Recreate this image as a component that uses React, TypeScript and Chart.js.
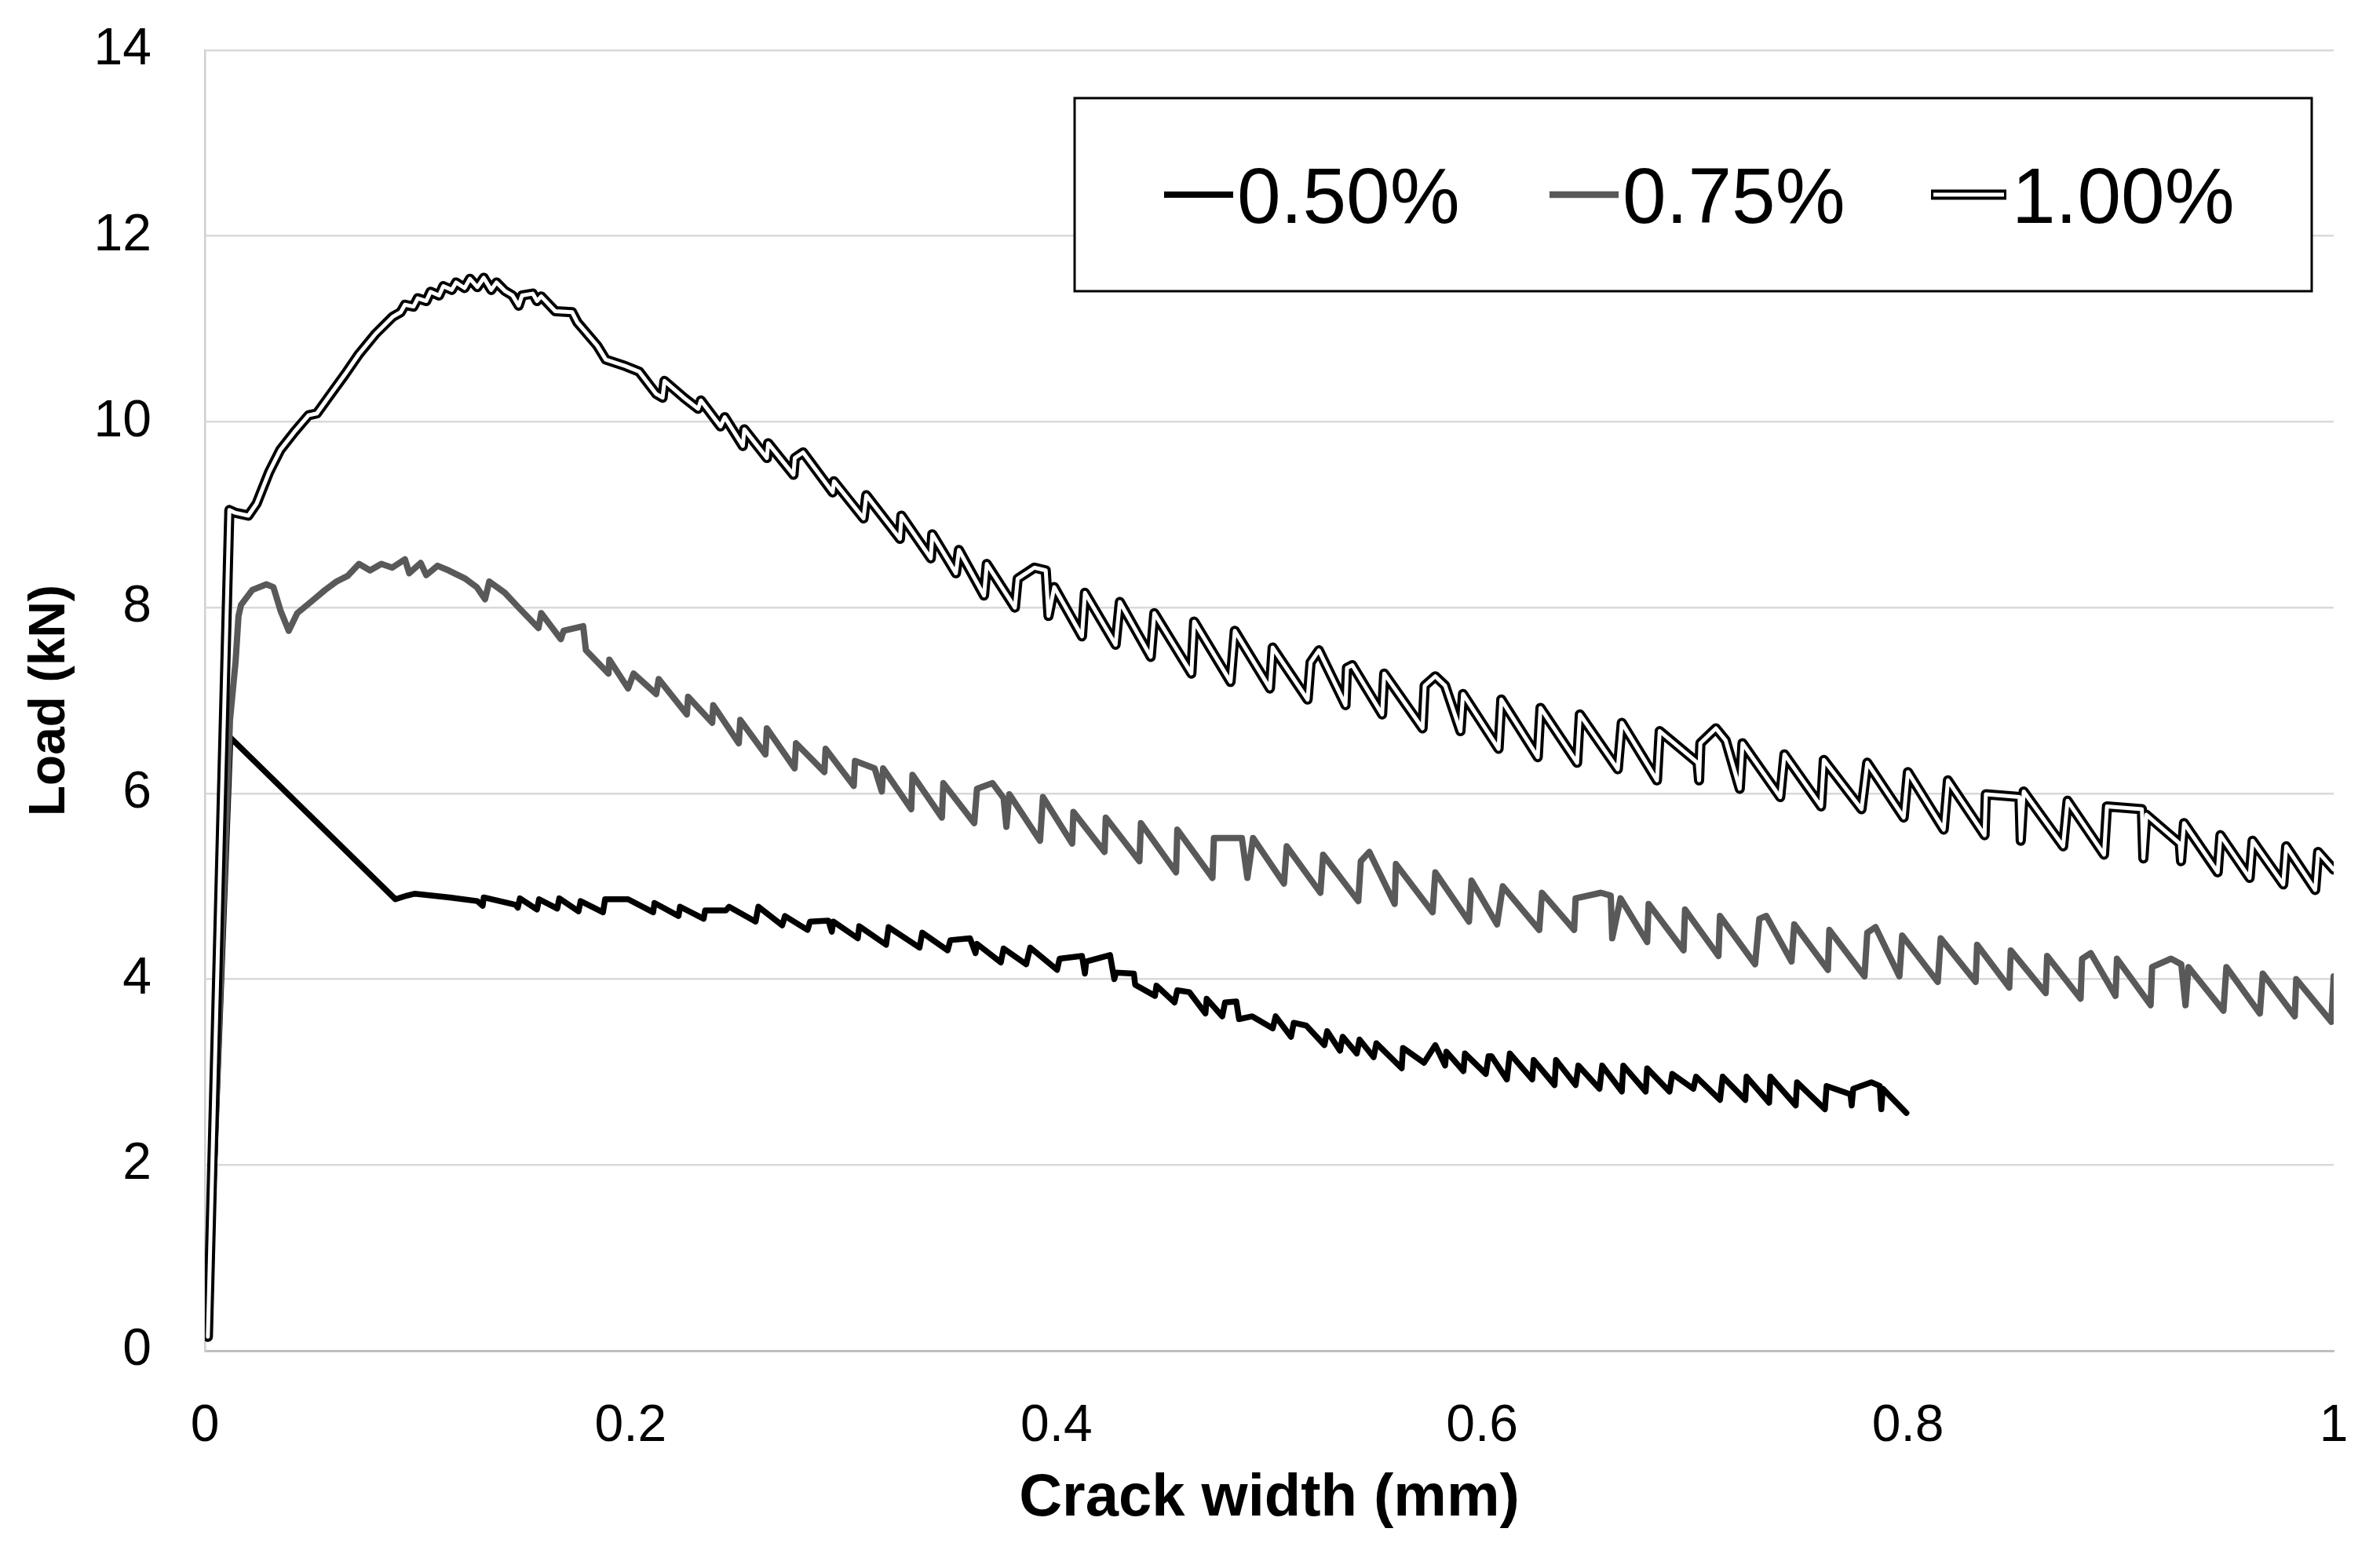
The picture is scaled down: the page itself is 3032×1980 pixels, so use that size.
import { useEffect, useRef } from "react";
import { Chart, registerables } from "chart.js";

Chart.register(...registerables);

// ---------- data ----------
const seriesLabels = ["0.50%", "0.75%", "1.00%"];
const xTickValues = [0, 0.2, 0.4, 0.6, 0.8, 1];
const yTickValues = [0, 2, 4, 6, 8, 10, 12, 14];

// [crack width (mm), load (kN)]
const s050: [number, number][] = [
  [0.0014, 0.15], [0.012, 6.6], [0.0895, 4.86], [0.095, 4.9], [0.0987, 4.92], [0.115, 4.88],
  [0.128, 4.84], [0.1305, 4.79], [0.131, 4.88], [0.146, 4.8], [0.147, 4.77], [0.148, 4.87],
  [0.156, 4.75], [0.157, 4.86], [0.1655, 4.76], [0.1665, 4.87], [0.1755, 4.73], [0.1765, 4.84],
  [0.187, 4.72], [0.188, 4.86], [0.1988, 4.86], [0.2106, 4.72], [0.2112, 4.82], [0.2225, 4.68],
  [0.2232, 4.78], [0.2343, 4.65], [0.235, 4.74], [0.2448, 4.74], [0.2462, 4.78], [0.2587, 4.62],
  [0.26, 4.78], [0.2712, 4.58], [0.2725, 4.68], [0.2831, 4.53], [0.2843, 4.62], [0.2929, 4.63],
  [0.2945, 4.51], [0.2952, 4.62], [0.3067, 4.44], [0.3074, 4.57], [0.32, 4.37], [0.3212, 4.56],
  [0.3357, 4.34], [0.337, 4.5], [0.3489, 4.31], [0.3502, 4.42], [0.3594, 4.44], [0.362, 4.28],
  [0.3627, 4.38], [0.3739, 4.18], [0.3752, 4.33], [0.3858, 4.16], [0.3877, 4.34], [0.4003, 4.1],
  [0.4015, 4.22], [0.412, 4.25], [0.4134, 4.06], [0.414, 4.19], [0.4252, 4.26], [0.4272, 4.0],
  [0.428, 4.07], [0.4364, 4.06], [0.437, 3.94], [0.4463, 3.82], [0.447, 3.93], [0.4555, 3.75],
  [0.4568, 3.88], [0.4625, 3.86], [0.47, 3.63], [0.4706, 3.79], [0.4779, 3.6], [0.4792, 3.75],
  [0.4845, 3.76], [0.4858, 3.57], [0.492, 3.6], [0.5016, 3.47], [0.503, 3.6], [0.5102, 3.38],
  [0.5115, 3.53], [0.5174, 3.5], [0.5259, 3.29], [0.5272, 3.44], [0.5332, 3.23], [0.5345, 3.38],
  [0.5411, 3.2], [0.5424, 3.35], [0.549, 3.16], [0.5503, 3.31], [0.5622, 3.04], [0.5628, 3.26],
  [0.5727, 3.1], [0.578, 3.29], [0.5826, 3.07], [0.5832, 3.22], [0.5912, 3.01], [0.5919, 3.2],
  [0.6017, 2.98], [0.603, 3.17], [0.6044, 3.17], [0.6116, 2.92], [0.613, 3.2], [0.6235, 2.92],
  [0.6242, 3.13], [0.634, 2.86], [0.6347, 3.13], [0.6439, 2.86], [0.6452, 3.07], [0.6551, 2.82],
  [0.6564, 3.07], [0.6656, 2.79], [0.6663, 3.07], [0.6768, 2.79], [0.6775, 3.04], [0.688, 2.79],
  [0.6893, 2.98], [0.6992, 2.82], [0.7005, 2.95], [0.7117, 2.7], [0.713, 2.95], [0.7236, 2.7],
  [0.7242, 2.95], [0.7348, 2.67], [0.7354, 2.95], [0.7473, 2.64], [0.7479, 2.89], [0.761, 2.6],
  [0.7618, 2.85], [0.773, 2.76], [0.7736, 2.64], [0.7743, 2.82], [0.7828, 2.89], [0.7868, 2.85],
  [0.7875, 2.6], [0.7882, 2.82], [0.7993, 2.56],
];

const s075: [number, number][] = [
  [0.0014, 0.15], [0.0118, 6.79], [0.0144, 7.41], [0.0158, 7.91], [0.017, 8.03], [0.0223, 8.19],
  [0.0289, 8.25], [0.0322, 8.22], [0.0355, 7.97], [0.0394, 7.75], [0.0434, 7.94], [0.0513, 8.09],
  [0.0565, 8.19], [0.0618, 8.28], [0.067, 8.34], [0.0724, 8.47], [0.0776, 8.4], [0.0829, 8.47],
  [0.088, 8.43], [0.094, 8.52], [0.096, 8.37], [0.1014, 8.48], [0.104, 8.35], [0.1093, 8.45],
  [0.1145, 8.4], [0.1224, 8.31], [0.1277, 8.22], [0.1316, 8.09], [0.1336, 8.28], [0.1409, 8.16],
  [0.1474, 8.0], [0.1567, 7.78], [0.158, 7.94], [0.1672, 7.66], [0.1685, 7.75], [0.1777, 7.8],
  [0.179, 7.54], [0.1896, 7.29], [0.19, 7.44], [0.1988, 7.13], [0.2014, 7.29], [0.212, 7.07],
  [0.2132, 7.23], [0.2264, 6.85], [0.227, 7.04], [0.2383, 6.76], [0.2388, 6.95], [0.2508, 6.54],
  [0.2515, 6.79], [0.2633, 6.42], [0.264, 6.7], [0.277, 6.27], [0.2777, 6.54], [0.291, 6.23],
  [0.2916, 6.48], [0.3048, 6.08], [0.3054, 6.35], [0.3146, 6.27], [0.318, 6.02], [0.3186, 6.27],
  [0.3318, 5.83], [0.3324, 6.2], [0.3462, 5.74], [0.3469, 6.11], [0.3614, 5.68], [0.3627, 6.05],
  [0.37, 6.11], [0.3752, 5.95], [0.3765, 5.64], [0.3779, 5.99], [0.3923, 5.49], [0.3937, 5.96],
  [0.4074, 5.46], [0.408, 5.8], [0.4226, 5.37], [0.4232, 5.74], [0.439, 5.27], [0.4397, 5.68],
  [0.4562, 5.15], [0.4568, 5.61], [0.4733, 5.09], [0.474, 5.52], [0.4871, 5.52], [0.4897, 5.09],
  [0.4924, 5.52], [0.5069, 5.03], [0.5082, 5.43], [0.524, 4.93], [0.5253, 5.34], [0.5418, 4.84],
  [0.543, 5.27], [0.547, 5.37], [0.5589, 4.81], [0.5595, 5.24], [0.5767, 4.72], [0.578, 5.15],
  [0.5938, 4.62], [0.595, 5.06], [0.607, 4.59], [0.6097, 5.0], [0.6268, 4.53], [0.6281, 4.93],
  [0.6432, 4.53], [0.6439, 4.87], [0.6558, 4.93], [0.6604, 4.9], [0.6611, 4.44], [0.665, 4.87],
  [0.6775, 4.4], [0.6782, 4.81], [0.6946, 4.31], [0.6953, 4.75], [0.711, 4.25], [0.7117, 4.68],
  [0.7282, 4.16], [0.7302, 4.65], [0.7335, 4.68], [0.7453, 4.19], [0.7466, 4.59], [0.7624, 4.1],
  [0.7631, 4.53], [0.7796, 4.03], [0.7809, 4.5], [0.7848, 4.56], [0.796, 4.03], [0.7973, 4.47],
  [0.814, 3.97], [0.8154, 4.44], [0.8318, 3.97], [0.8325, 4.37], [0.8476, 3.91], [0.8483, 4.31],
  [0.8647, 3.85], [0.8654, 4.25], [0.8811, 3.79], [0.8818, 4.22], [0.8859, 4.28], [0.8975, 3.82],
  [0.8982, 4.22], [0.914, 3.72], [0.9147, 4.13], [0.9236, 4.22], [0.9284, 4.16], [0.9304, 3.72],
  [0.9318, 4.13], [0.9482, 3.66], [0.9496, 4.13], [0.9653, 3.63], [0.9667, 4.06], [0.9817, 3.6],
  [0.9824, 4.0], [0.9989, 3.54], [1.0, 4.03],
];

const s100: [number, number][] = [
  [0.0014, 0.15], [0.0115, 9.05], [0.0144, 9.02], [0.0204, 8.99], [0.0243, 9.12], [0.0302, 9.46],
  [0.0355, 9.7], [0.042, 9.89], [0.0487, 10.07], [0.0526, 10.09], [0.0579, 10.26], [0.0658, 10.51],
  [0.0724, 10.73], [0.0803, 10.95], [0.0882, 11.13], [0.092, 11.18], [0.094, 11.26], [0.098, 11.24],
  [0.1, 11.33], [0.104, 11.3], [0.106, 11.4], [0.11, 11.36], [0.112, 11.46], [0.116, 11.42],
  [0.118, 11.5], [0.122, 11.44], [0.1245, 11.54], [0.128, 11.45], [0.131, 11.55], [0.1345, 11.42],
  [0.137, 11.5], [0.1409, 11.41], [0.1445, 11.36], [0.1474, 11.25], [0.149, 11.36], [0.154, 11.38],
  [0.156, 11.3], [0.158, 11.35], [0.1646, 11.19], [0.1725, 11.18], [0.175, 11.07], [0.1843, 10.82],
  [0.1883, 10.67], [0.1975, 10.6], [0.204, 10.54], [0.212, 10.3], [0.215, 10.26], [0.2159, 10.44],
  [0.225, 10.26], [0.2317, 10.14], [0.233, 10.23], [0.2422, 9.95], [0.2442, 10.05], [0.2527, 9.74],
  [0.2534, 9.92], [0.264, 9.61], [0.2646, 9.77], [0.2765, 9.43], [0.2771, 9.61], [0.281, 9.67],
  [0.2949, 9.24], [0.2955, 9.36], [0.3094, 8.96], [0.3107, 9.21], [0.3265, 8.74], [0.3272, 8.99],
  [0.341, 8.53], [0.3417, 8.79], [0.3528, 8.37], [0.3542, 8.62], [0.366, 8.13], [0.3673, 8.47],
  [0.3805, 8.0], [0.3818, 8.31], [0.3897, 8.43], [0.395, 8.4], [0.3963, 7.91], [0.399, 8.22],
  [0.412, 7.69], [0.4134, 8.16], [0.4278, 7.6], [0.4298, 8.06], [0.4443, 7.47], [0.446, 7.94],
  [0.4634, 7.29], [0.4647, 7.85], [0.4818, 7.2], [0.4838, 7.75], [0.5003, 7.13], [0.5016, 7.57],
  [0.518, 7.01], [0.5194, 7.41], [0.5233, 7.54], [0.5358, 6.95], [0.5365, 7.35], [0.539, 7.38],
  [0.553, 6.85], [0.554, 7.29], [0.572, 6.7], [0.573, 7.16], [0.578, 7.26], [0.5826, 7.16],
  [0.5898, 6.67], [0.591, 7.07], [0.6077, 6.48], [0.609, 7.01], [0.6261, 6.39], [0.6274, 6.92],
  [0.6446, 6.33], [0.6459, 6.85], [0.6637, 6.26], [0.6656, 6.76], [0.6821, 6.14], [0.6834, 6.67],
  [0.7012, 6.33], [0.7019, 6.14], [0.7025, 6.54], [0.7098, 6.7], [0.7144, 6.57], [0.721, 6.05],
  [0.7223, 6.54], [0.74, 5.96], [0.742, 6.42], [0.7592, 5.86], [0.7605, 6.36], [0.7782, 5.83],
  [0.7809, 6.33], [0.798, 5.74], [0.8, 6.23], [0.8168, 5.61], [0.8188, 6.14], [0.836, 5.55],
  [0.8366, 5.99], [0.8524, 5.96], [0.853, 5.49], [0.8544, 6.02], [0.8729, 5.43], [0.875, 5.92],
  [0.8921, 5.34], [0.8935, 5.86], [0.9099, 5.83], [0.9106, 5.3], [0.912, 5.77], [0.9277, 5.46],
  [0.9283, 5.27], [0.9297, 5.68], [0.9455, 5.15], [0.9468, 5.55], [0.9605, 5.09], [0.9619, 5.49],
  [0.9763, 5.02], [0.9777, 5.43], [0.9913, 4.96], [0.9927, 5.37], [1.0, 5.18],
];

const toXY = (arr: [number, number][]) => arr.map(([x, y]) => ({ x, y }));

const FONT = "'Liberation Sans', Arial, Helvetica, sans-serif";
const GRAY = "#595959";

export default function App() {
  const canvasRef = useRef<HTMLCanvasElement | null>(null);

  useEffect(() => {
    const canvas = canvasRef.current;
    if (!canvas) return;
    Chart.defaults.font.family = FONT;

    const boxLegend = {
      id: "boxLegend",
      afterDraw(chart: any) {
        const ctx = chart.ctx as CanvasRenderingContext2D;
        ctx.save();
        const bx = 1369, by = 125, bw = 2945 - 1369, bh = 371 - 125;
        ctx.fillStyle = "#ffffff";
        ctx.fillRect(bx, by, bw, bh);
        ctx.strokeStyle = "#000000";
        ctx.lineWidth = 3;
        ctx.strokeRect(bx, by, bw, bh);
        const lineStarts = [1483, 1974, 2460];
        const lineEnds = [1571, 2062, 2556];
        const textXs = [1576, 2067, 2563];
        const cy = 248;
        ctx.lineCap = "butt";
        for (let i = 0; i < seriesLabels.length; i++) {
          ctx.beginPath();
          ctx.moveTo(lineStarts[i], cy);
          ctx.lineTo(lineEnds[i], cy);
          if (i === 0) {
            ctx.strokeStyle = "#000";
            ctx.lineWidth = 8;
            ctx.stroke();
          } else if (i === 1) {
            ctx.strokeStyle = GRAY;
            ctx.lineWidth = 8.5;
            ctx.stroke();
          } else {
            ctx.strokeStyle = "#000";
            ctx.lineWidth = 13;
            ctx.stroke();
            ctx.beginPath();
            ctx.moveTo(lineStarts[i] + 3, cy);
            ctx.lineTo(lineEnds[i] - 3, cy);
            ctx.strokeStyle = "#fff";
            ctx.lineWidth = 5;
            ctx.stroke();
          }
          ctx.fillStyle = "#000";
          ctx.font = `100px ${FONT}`;
          ctx.textBaseline = "alphabetic";
          ctx.textAlign = "left";
          ctx.fillText(seriesLabels[i], textXs[i], 284);
        }
        ctx.restore();
      },
    };

    const common = {
      showLine: true,
      pointRadius: 0,
      pointHoverRadius: 0,
      tension: 0,
      borderJoinStyle: "round" as const,
      borderCapStyle: "round" as const,
      fill: false,
    };

    const fmt = (v: any) => String(Number(v));

    const chart = new Chart(canvas, {
      type: "scatter",
      data: {
        datasets: [
          { ...common, label: seriesLabels[0], data: toXY(s050), borderColor: "#000000", borderWidth: 7.5, order: 3 },
          { ...common, label: seriesLabels[1], data: toXY(s075), borderColor: GRAY, borderWidth: 8, order: 2 },
          { ...common, label: seriesLabels[2] + " outline", data: toXY(s100), borderColor: "#000000", borderWidth: 13, order: 1 },
          { ...common, label: seriesLabels[2], data: toXY(s100), borderColor: "#ffffff", borderWidth: 5, order: 0 },
        ],
      },
      options: {
        responsive: false,
        maintainAspectRatio: false,
        devicePixelRatio: 1,
        animation: false,
        events: [],
        layout: { padding: { left: 0, right: 59, top: 64, bottom: 0 } },
        plugins: {
          legend: { display: false },
          tooltip: { enabled: false },
          title: { display: false },
        },
        scales: {
          x: {
            type: "linear",
            min: 0,
            max: 1,
            afterBuildTicks: (scale: any) => {
              scale.ticks = xTickValues.map((v) => ({ value: v }));
            },
            ticks: { padding: 57, font: { size: 66 }, color: "#000", callback: fmt },
            grid: { display: false, drawTicks: false },
            border: { display: true, color: "#bfbfbf", width: 3 },
            title: {
              display: true,
              text: "Crack width (mm)",
              color: "#000",
              font: { size: 76, weight: "bold" },
              padding: { top: 0, bottom: 24 },
            },
            afterFit: (scale: any) => {
              scale.height = 1980 - 1721;
              scale.paddingLeft = 0;
              scale.paddingRight = 0;
              scale.paddingTop = 0;
              scale.paddingBottom = 0;
            },
          },
          y: {
            type: "linear",
            min: 0,
            max: 14,
            afterBuildTicks: (scale: any) => {
              scale.ticks = yTickValues.map((v) => ({ value: v }));
            },
            ticks: { padding: 68, font: { size: 66 }, color: "#000", callback: fmt },
            grid: { color: "#d9d9d9", lineWidth: 2.5, drawTicks: false },
            border: { display: true, color: "#d0d0d0", width: 2.5 },
            title: {
              display: true,
              text: "Load (kN)",
              color: "#000",
              font: { size: 64, weight: "bold" },
              padding: { top: 26, bottom: 0 },
            },
            afterFit: (scale: any) => {
              scale.width = 261;
              scale.paddingLeft = 0;
              scale.paddingRight = 0;
              scale.paddingTop = 0;
              scale.paddingBottom = 0;
            },
          },
        },
      } as any,
      plugins: [boxLegend],
    });

    return () => chart.destroy();
  }, []);

  return (
    <div style={{ position: "absolute", left: 0, top: 0, width: 3032, height: 1980, background: "#ffffff" }}>
      <canvas ref={canvasRef} width={3032} height={1980} style={{ width: 3032, height: 1980, display: "block" }} />
    </div>
  );
}
